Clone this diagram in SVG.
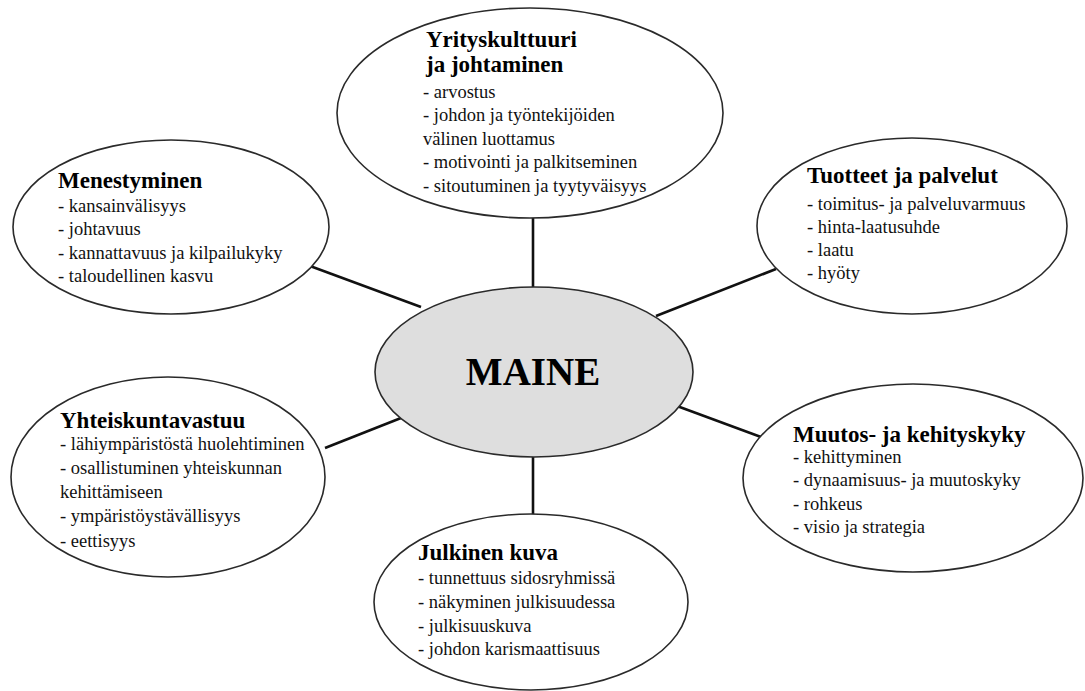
<svg xmlns="http://www.w3.org/2000/svg" width="1085" height="691" viewBox="0 0 1085 691">
<style>
.bg{fill:#ffffff}
.node{fill:#ffffff;stroke:#2a2a2a;stroke-width:1.6}
.center{fill:#dedede;stroke:#2a2a2a;stroke-width:1.6}
.conn{stroke:#111111;stroke-width:2.6;fill:none}
.t{font-family:"Liberation Serif","Times New Roman",serif;font-weight:bold;font-size:23px;fill:#000}
.i{font-family:"Liberation Serif","Times New Roman",serif;font-size:18.5px;fill:#111}
.m{font-family:"Liberation Serif","Times New Roman",serif;font-weight:bold;font-size:39px;fill:#000}
</style>
<rect class="bg" x="0" y="0" width="1085" height="691"/>
<g id="connectors">
<line class="conn" x1="533" y1="218" x2="533" y2="289"/>
<line class="conn" x1="533" y1="456" x2="533" y2="515"/>
<line class="conn" x1="310" y1="266" x2="421" y2="307"/>
<line class="conn" x1="656" y1="316" x2="776" y2="269"/>
<line class="conn" x1="325" y1="448" x2="401" y2="418"/>
<line class="conn" x1="677" y1="406" x2="761" y2="437"/>
</g>
<g id="maine">
<ellipse class="center" cx="534" cy="372" rx="159" ry="85"/>
<text class="m" x="533" y="385" text-anchor="middle">MAINE</text>
</g>
<g id="yrityskulttuuri">
<ellipse class="node" cx="530" cy="113" rx="193" ry="105"/>
<text class="t" x="426" y="47">Yrityskulttuuri</text>
<text class="t" x="426" y="72">ja johtaminen</text>
<text class="i" x="423" y="98">- arvostus</text>
<text class="i" x="423" y="121">- johdon ja työntekijöiden</text>
<text class="i" x="423" y="145">välinen luottamus</text>
<text class="i" x="423" y="168">- motivointi ja palkitseminen</text>
<text class="i" x="423" y="192">- sitoutuminen ja tyytyväisyys</text>
</g>
<g id="menestyminen">
<ellipse class="node" cx="171" cy="227" rx="158" ry="87"/>
<text class="t" x="58" y="188">Menestyminen</text>
<text class="i" x="58" y="212">- kansainvälisyys</text>
<text class="i" x="58" y="235">- johtavuus</text>
<text class="i" x="58" y="259">- kannattavuus ja kilpailukyky</text>
<text class="i" x="58" y="282">- taloudellinen kasvu</text>
</g>
<g id="tuotteet">
<ellipse class="node" cx="912" cy="226" rx="155" ry="88"/>
<text class="t" x="807" y="183">Tuotteet ja palvelut</text>
<text class="i" x="807" y="210">- toimitus- ja palveluvarmuus</text>
<text class="i" x="807" y="233">- hinta-laatusuhde</text>
<text class="i" x="807" y="256">- laatu</text>
<text class="i" x="807" y="279">- hyöty</text>
</g>
<g id="yhteiskuntavastuu">
<ellipse class="node" cx="168" cy="477" rx="157" ry="100"/>
<text class="t" x="60" y="428">Yhteiskuntavastuu</text>
<text class="i" x="60" y="450">- lähiympäristöstä huolehtiminen</text>
<text class="i" x="60" y="474">- osallistuminen yhteiskunnan</text>
<text class="i" x="60" y="498">kehittämiseen</text>
<text class="i" x="60" y="522">- ympäristöystävällisyys</text>
<text class="i" x="60" y="547">- eettisyys</text>
</g>
<g id="muutos">
<ellipse class="node" cx="913" cy="478" rx="170" ry="94"/>
<text class="t" x="793" y="442">Muutos- ja kehityskyky</text>
<text class="i" x="793" y="463">- kehittyminen</text>
<text class="i" x="793" y="486">- dynaamisuus- ja muutoskyky</text>
<text class="i" x="793" y="510">- rohkeus</text>
<text class="i" x="793" y="533">- visio ja strategia</text>
</g>
<g id="julkinen">
<ellipse class="node" cx="531" cy="602" rx="157" ry="88"/>
<text class="t" x="418" y="560">Julkinen kuva</text>
<text class="i" x="418" y="584">- tunnettuus sidosryhmissä</text>
<text class="i" x="418" y="608">- näkyminen julkisuudessa</text>
<text class="i" x="418" y="632">- julkisuuskuva</text>
<text class="i" x="418" y="655">- johdon karismaattisuus</text>
</g>
</svg>
